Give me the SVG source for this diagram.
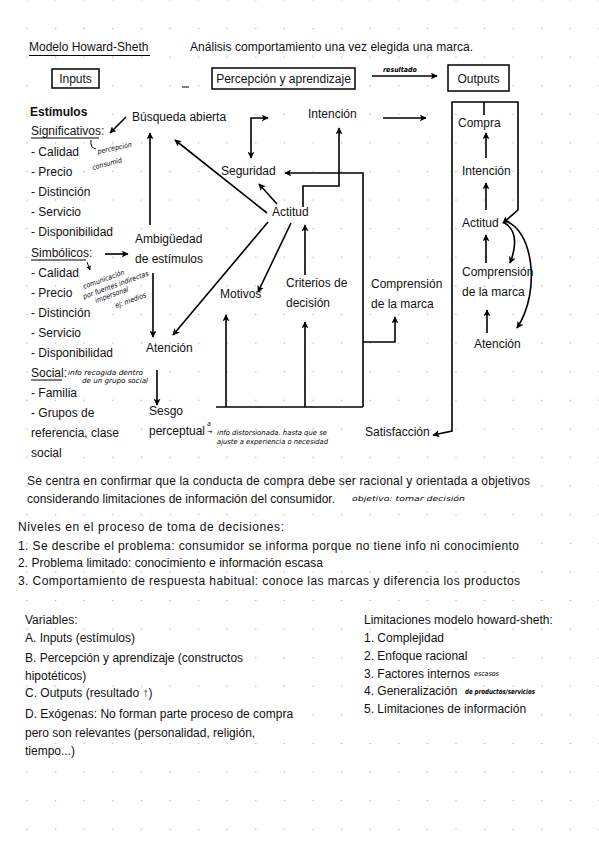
<svg xmlns="http://www.w3.org/2000/svg" width="599" height="848" viewBox="0 0 599 848">
<defs>
<pattern id="dots" x="12.7" y="14.2" width="28.6" height="28.6" patternUnits="userSpaceOnUse">
<circle cx="14.3" cy="14.3" r="0.8" fill="#b8b8b8"/>
</pattern>
<marker id="ah" viewBox="0 0 10 10" refX="9" refY="5" markerWidth="7" markerHeight="7" markerUnits="userSpaceOnUse" orient="auto-start-reverse">
<path d="M0,0 L10,5 L0,10 L2.5,5 z" fill="#000"/>
</marker>
<marker id="ahs" viewBox="0 0 10 10" refX="9" refY="5" markerWidth="5" markerHeight="5" markerUnits="userSpaceOnUse" orient="auto-start-reverse">
<path d="M0,0 L10,5 L0,10 L2.5,5 z" fill="#000"/>
</marker>
<style>
text{font-family:"Liberation Sans",Arial,sans-serif;fill:#111;}
.t{font-size:12px;}
.b{font-size:12px;}
.h{font-family:"DejaVu Sans Condensed","DejaVu Sans",sans-serif;font-style:italic;font-size:7px;fill:#000;}
.c{stroke:#000;stroke-width:1.6;fill:none;}
.a{marker-end:url(#ah);}
.box{fill:#fff;stroke:#000;stroke-width:1.5;}
.u{stroke:#000;stroke-width:1;}
</style>
</defs>
<rect width="599" height="848" fill="#fff"/>
<rect width="599" height="848" fill="url(#dots)"/>

<g id="header">
<text class="t" x="29" y="51">Modelo Howard-Sheth</text>
<line class="u" x1="29" y1="55.5" x2="150" y2="55.5" stroke-width="1.3"/>
<text class="t" x="190" y="51" textLength="283" lengthAdjust="spacing">Análisis comportamiento una vez elegida una marca.</text>
<line class="u" x1="182" y1="87" x2="189" y2="87"/>
</g>

<g id="inputs">
<rect class="box" x="52" y="69" width="47" height="19"/>
<text class="t" x="75.5" y="83" text-anchor="middle">Inputs</text>
</g>
<g id="percepcion">
<rect class="box" x="212" y="68" width="143" height="21"/>
<text class="t" x="283.5" y="83" text-anchor="middle">Percepción y aprendizaje</text>
</g>
<g id="outputs">
<rect class="box" x="448" y="65" width="61" height="26"/>
<text class="t" x="478.5" y="83" text-anchor="middle">Outputs</text>
</g>
<g id="resultado-label">
<text class="h" x="383" y="72" font-weight="bold" font-size="6.5">resultado</text>
</g>

<g id="estimulos">
<text class="t" x="30" y="116" font-weight="bold">Estímulos</text>
<text class="t" x="31" y="135">Significativos:</text>
<line class="u" x1="31" y1="138" x2="99" y2="138"/>
<text class="t" x="31" y="156">- Calidad</text>
<text class="t" x="31" y="176">- Precio</text>
<text class="t" x="31" y="196">- Distinción</text>
<text class="t" x="31" y="216">- Servicio</text>
<text class="t" x="31" y="236">- Disponibilidad</text>
<text class="t" x="31" y="257">Simbólicos:</text>
<line class="u" x1="31" y1="260" x2="86" y2="260"/>
<text class="t" x="31" y="277">- Calidad</text>
<text class="t" x="31" y="297">- Precio</text>
<text class="t" x="31" y="317">- Distinción</text>
<text class="t" x="31" y="337">- Servicio</text>
<text class="t" x="31" y="357">- Disponibilidad</text>
<text class="t" x="31" y="377">Social:</text>
<line class="u" x1="31" y1="380" x2="62" y2="380"/>
<text class="t" x="31" y="397">- Familia</text>
<text class="t" x="31" y="417">- Grupos de</text>
<text class="t" x="31" y="437">referencia, clase</text>
<text class="t" x="31" y="457">social</text>
</g>

<g id="notas-estimulos">
<path d="M91,140 Q90,148 96,149" stroke="#000" stroke-width="1" fill="none"/>
<text class="h" transform="translate(98,154) rotate(-12)">percepción</text>
<text class="h" transform="translate(93,170) rotate(-15)">consumid</text>
<path d="M87,262 L90,270" stroke="#000" stroke-width="1" fill="none" marker-end="url(#ahs)"/>
<text class="h" transform="translate(84,289) rotate(-20)" font-size="6.5">comunicación</text>
<text class="h" transform="translate(84,299) rotate(-20)" font-size="6.5">por fuentes indirectas</text>
<text class="h" transform="translate(96,303) rotate(-20)" font-size="6.5">impersonal</text>
<text class="h" transform="translate(116,308) rotate(-20)" font-size="6.5">ej: medios</text>
<text class="h" x="68" y="375" textLength="75" lengthAdjust="spacingAndGlyphs">info recogida dentro</text>
<text class="h" x="82" y="383" textLength="66" lengthAdjust="spacingAndGlyphs">de un grupo social</text>
</g>

<g id="busqueda"><text class="t" x="132" y="121">Búsqueda abierta</text></g>
<g id="intencion"><text class="t" x="308" y="118">Intención</text></g>
<g id="seguridad"><text class="t" x="221" y="175">Seguridad</text></g>
<g id="actitud"><text class="t" x="272" y="216">Actitud</text></g>
<g id="ambiguedad"><text class="t" x="135" y="243">Ambigüedad</text><text class="t" x="135" y="263">de estímulos</text></g>
<g id="motivos"><text class="t" x="220" y="298">Motivos</text></g>
<g id="criterios"><text class="t" x="286" y="287">Criterios de</text><text class="t" x="286" y="307">decisión</text></g>
<g id="comprension"><text class="t" x="371" y="288">Comprensión</text><text class="t" x="371" y="308">de la marca</text></g>
<g id="atencion"><text class="t" x="146" y="352">Atención</text></g>
<g id="sesgo">
<text class="t" x="149" y="415">Sesgo</text>
<text class="t" x="149" y="435">perceptual</text>
<text class="h" x="207" y="426">a</text>
<text class="h" x="207" y="434">→</text>
<text class="h" x="217" y="435" textLength="110" lengthAdjust="spacingAndGlyphs">info distorsionada. hasta que se</text>
<text class="h" x="217" y="444" textLength="111" lengthAdjust="spacingAndGlyphs">ajuste a experiencia o necesidad</text>
</g>
<g id="satisfaccion"><text class="t" x="365" y="436">Satisfacción</text></g>

<g id="out-compra"><text class="t" x="458" y="127">Compra</text></g>
<g id="out-intencion"><text class="t" x="462" y="175">Intención</text></g>
<g id="out-actitud"><text class="t" x="462" y="227">Actitud</text></g>
<g id="out-comprension"><text class="t" x="462" y="276">Comprensión</text><text class="t" x="462" y="296">de la marca</text></g>
<g id="out-atencion"><text class="t" x="474" y="348">Atención</text></g>

<g id="connectors">
<path class="c a" d="M372,76 H437"/>
<path class="c a" d="M126,117 L110,133"/>
<path class="c a" d="M150,225 V133"/>
<path class="c a" d="M267,213 L175,140"/>
<path class="c a" d="M251,158 V118 H268" marker-start="url(#ah)"/>
<path class="c a" d="M383,118 H426"/>
<path class="c a" d="M277,204 L259,184"/>
<path class="c a" d="M303,207 V186 H339 V128"/>
<path class="c a" d="M363,407 V173 H285"/>
<path class="c a" d="M363,342 H395 V317"/>
<path class="c" d="M216,407 H363"/>
<path class="c a" d="M226,407 V315"/>
<path class="c a" d="M305,407 V322"/>
<path class="c a" d="M305,275 V225"/>
<path class="c a" d="M268,222 L173,335"/>
<path class="c a" d="M291,223 L258,292"/>
<path class="c a" d="M105,254 H128"/>
<path class="c a" d="M153,273 V337"/>
<path class="c a" d="M157,370 V405"/>
<path class="c a" d="M433,435 L452,431 V102 H518 V210 L503,223" marker-start="url(#ah)"/>
<path class="c" d="M484,102 V115"/>
<path class="c a" d="M486,158 V133"/>
<path class="c a" d="M486,210 V183"/>
<path class="c a" d="M486,263 V235"/>
<path class="c a" d="M487,333 V310"/>
<path class="c a" d="M503,222 Q522,232 510,263"/>
<path class="c a" d="M505,221 C532,228 542,290 517,328"/>
</g>

<g id="resumen">
<text class="b" x="27" y="485" textLength="503" lengthAdjust="spacing">Se centra en confirmar que la conducta de compra debe ser racional y orientada a objetivos</text>
<text class="b" x="27" y="503" textLength="308" lengthAdjust="spacing">considerando limitaciones de información del consumidor.</text>
<text class="h" x="352" y="501" font-size="10" textLength="113" lengthAdjust="spacingAndGlyphs">objetivo: tomar decisión</text>
</g>

<g id="niveles">
<text class="b" x="18" y="531" textLength="266" lengthAdjust="spacing">Niveles en el proceso de toma de decisiones:</text>
<text class="b" x="18" y="550" textLength="501" lengthAdjust="spacing">1. Se describe el problema: consumidor se informa porque no tiene info ni conocimiento</text>
<text class="b" x="18" y="567" textLength="305" lengthAdjust="spacing">2. Problema limitado: conocimiento e información escasa</text>
<text class="b" x="18" y="585" textLength="502" lengthAdjust="spacing">3. Comportamiento de respuesta habitual: conoce las marcas y diferencia los productos</text>
</g>

<g id="variables">
<text class="b" x="25" y="624">Variables:</text>
<text class="b" x="25" y="642">A. Inputs (estímulos)</text>
<text class="b" x="25" y="662">B. Percepción y aprendizaje (constructos</text>
<text class="b" x="25" y="680">hipotéticos)</text>
<text class="b" x="25" y="697">C. Outputs (resultado ↑)</text>
<text class="b" x="25" y="718">D. Exógenas: No forman parte proceso de compra</text>
<text class="b" x="25" y="737">pero son relevantes (personalidad, religión,</text>
<text class="b" x="25" y="755">tiempo...)</text>
</g>

<g id="limitaciones">
<text class="b" x="364" y="624">Limitaciones modelo howard-sheth:</text>
<text class="b" x="364" y="642">1. Complejidad</text>
<text class="b" x="364" y="660">2. Enfoque racional</text>
<text class="b" x="364" y="678">3. Factores internos</text>
<text class="h" x="474" y="676">escasos</text>
<text class="b" x="364" y="695">4. Generalización</text>
<text class="h" x="465" y="694" font-weight="bold" textLength="70" lengthAdjust="spacingAndGlyphs">de productos/servicios</text>
<text class="b" x="364" y="713">5. Limitaciones de información</text>
</g>
</svg>
